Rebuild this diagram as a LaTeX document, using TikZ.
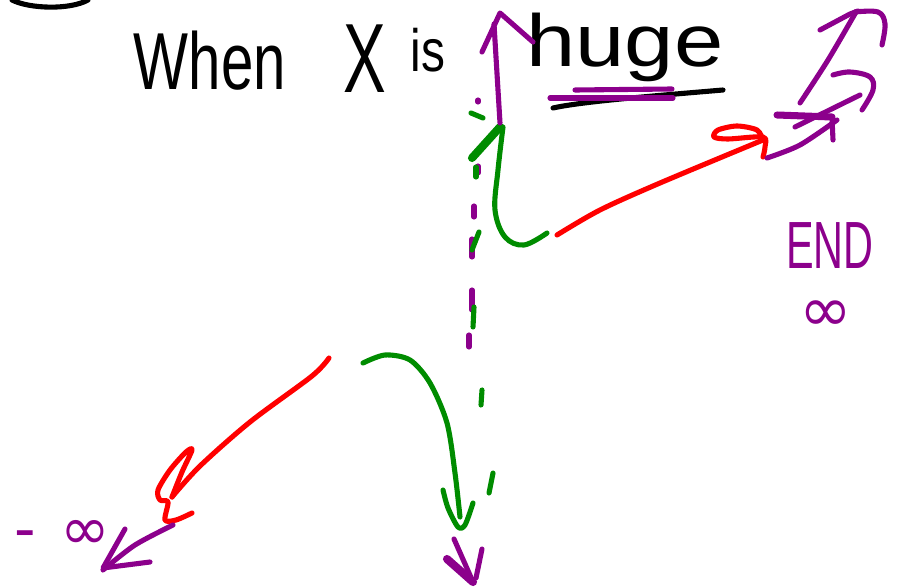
\documentclass[tikz,border=0pt]{standalone}
\usepackage{fontspec}
\setmainfont{Liberation Sans}
\newfontfamily\symfont{DejaVu Sans}
\definecolor{pur}{RGB}{140,0,140}
\definecolor{grn}{RGB}{0,140,0}
\definecolor{rd}{RGB}{255,0,0}
\tikzset{
  stroke/.style={line width=2.9pt, line cap=round, line join=round},
  ink/.style={stroke, draw=black},
  pp/.style={stroke, draw=pur},
  gg/.style={stroke, draw=grn},
  rr/.style={stroke, draw=rd},
  word/.style={inner sep=0pt, anchor=base},
  pword/.style={inner sep=0pt, text=pur},
}
\begin{document}
\begin{tikzpicture}[x=0.02cm, y=-0.02cm]
\fill[white] (0,0) rectangle (900,588);
\useasboundingbox (0,0) rectangle (900,588);

% top-left partial circle
\draw[ink] (12,0) .. controls (30,9) and (70,10) .. (88,0);

% title words
\node[word, font=\fontsize{46}{50}\selectfont] (when) at (210,90) {\scalebox{0.72}[1]{When}};
\node[word, font=\fontsize{56}{60}\selectfont] (x) at (365,93) {\scalebox{0.65}[1]{X}};
\node[word, font=\fontsize{34}{38}\selectfont] (is) at (428,72) {\scalebox{0.8}[1]{is}};
\node[word, font=\fontsize{42}{46}\selectfont] (huge) at (625,67) {\scalebox{1.2}[1]{huge}};

% underlines
\draw[ink] (553,108) .. controls (580,102) and (640,97) .. (723,90);
\draw[pp] (550,98) -- (673,98);
\draw[pp] (575,90) -- (672,89);

% dashed axis (purple and green dashes)
\foreach \a/\b in {{478,100}/{478,102},{478,166}/{478,173},{474,206}/{474,217},{472,239}/{472,257},{472,290}/{472,310},{469,335}/{469,347}}
  \draw[pp] (\a) -- (\b);
\foreach \a/\b in {{471,113}/{483,118},{476,167}/{476,177},{479,232}/{472,250},{474,307}/{473,327},{482,390}/{481,405},{493,473}/{489,493}}
  \draw[gg] (\a) -- (\b);
\draw[gg, line width=4.6pt] (472,158) -- (500,127);

% purple up arrow
\draw[pp] (500,123) -- (494,24);
\draw[pp] (482,52) -- (500,13) -- (533,42);

% green top curve
\draw[gg] plot[smooth, tension=0.6] coordinates {(503,127) (498,170) (495,210) (505,237) (524,245) (547,233)};

% red top arrow
\draw[rr] plot[smooth] coordinates {(557,235) (600,210) (660,183) (763,140)};
\draw[rr] plot[smooth, tension=0.5] coordinates {(763,140) (757,130) (737,126) (718,130) (714,137) (728,139) (763,137) (765,147) (763,157)};

% purple arrows top right
\draw[pp] plot[smooth] coordinates {(767,158) (800,145) (837,120)};
\draw[pp, line width=4pt] (777,115) -- (832,117);
\draw[pp] (832,118) -- (833,140);
\draw[pp] (795,127) -- (860,95);
\draw[pp] plot[smooth, tension=0.6] coordinates {(833,75) (850,72) (870,77) (873,90) (862,110)};
\draw[pp] plot[smooth] coordinates {(800,103) (828,60) (856,12)};
\draw[pp] (820,30) -- (850,14) -- (858,11);
\draw[pp] plot[smooth, tension=0.6] coordinates {(855,12) (878,12) (885,24) (882,45)};

% END infinity
\node[pword, anchor=base, font=\fontsize{38}{42}\selectfont] (end) at (830,268) {\scalebox{0.62}[1]{END}};
\node[pword, font=\symfont\fontsize{36}{40}\selectfont] (inf) at (826,316) {∞};

% bottom left red arrow
\draw[rr] plot[smooth] coordinates {(329,358) (312,376) (250,422) (200,466) (172,497)};
\draw[rr] plot[smooth, tension=0.5] coordinates {(172,497) (182,472) (192,450) (186,452) (170,470) (158,490) (160,500) (168,502) (165,520) (176,520) (192,513)};

% purple arrow to -infinity
\draw[pp] plot[smooth] coordinates {(173,525) (135,545) (103,570)};
\draw[pp] (125,529) -- (103,568) -- (150,562);
\node[pword, font=\symfont\fontsize{34}{38}\selectfont] (minf) at (62,535) {-\hspace{14pt}∞};

% green bottom curve
\draw[gg] plot[smooth] coordinates {(363,363) (385,355) (410,360) (430,383) (447,423) (455,473) (460,517)};
\draw[gg] plot[smooth, tension=0.5] coordinates {(443,490) (448,508) (458,527) (465,525) (473,503)};

% purple down arrow
\draw[pp] (454,539) -- (473,582);
\draw[pp, line width=4.6pt] (447,559) -- (473,582);
\draw[pp] (482,549) -- (476,578);
\end{tikzpicture}
\end{document}
